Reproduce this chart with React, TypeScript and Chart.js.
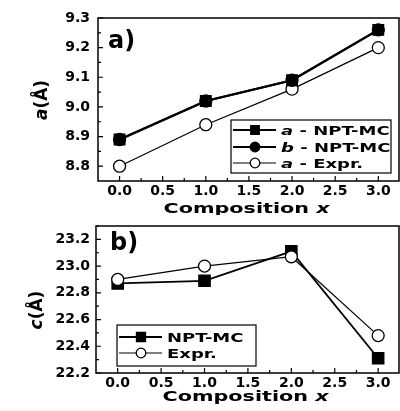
import React, { useEffect, useRef } from 'react';
import { Chart, registerables } from 'chart.js';

Chart.register(...registerables);

// ---------- data ----------
const compositions = [0, 1, 2, 3];
const aLatticeNptMc = [8.89, 9.02, 9.09, 9.26];
const bLatticeNptMc = [8.89, 9.02, 9.09, 9.26];
const aLatticeExpr = [8.8, 8.94, 9.06, 9.2];
const cLatticeNptMc = [22.87, 22.89, 23.11, 22.31];
const cLatticeExpr = [22.9, 23.0, 23.07, 22.48];

const xTickValues = [0, 0.5, 1, 1.5, 2, 2.5, 3];
const xMinorValues = [0.25, 0.75, 1.25, 1.75, 2.25, 2.75, 3.25];
const aTickValues = [8.8, 8.9, 9.0, 9.1, 9.2, 9.3];
const aMinorValues = [8.85, 8.95, 9.05, 9.15, 9.25];
const cTickValues = [22.2, 22.4, 22.6, 22.8, 23.0, 23.2];
const cMinorValues = [22.3, 22.5, 22.7, 22.9, 23.1, 23.3];

const FONT = '"DejaVu Sans", "Liberation Sans", Arial, sans-serif';

type Part = { text: string; italic?: boolean };
type Series = {
  label: Part[];
  values: number[];
  pointStyle: 'rect' | 'circle';
  filled: boolean;
  lineWidth: number;
  radius: number;
  order: number;
};

type Panel = {
  height: number;
  padTop: number;
  yAxisWidth: number;
  xAxisHeight: number;
  xMin: number;
  xMax: number;
  yMin: number;
  yMax: number;
  yTicks: number[];
  yMinor: number[];
  yDecimals: number;
  yTickPadding: number;
  series: Series[];
  yTitle: Part[];
  yTitlePos: [number, number];
  xTitleBaseline: number;
  panelLabel: string;
  panelLabelPos: [number, number];
  legendBox: [number, number, number, number];
  legendRows: number[];
};

function drawParts(
  ctx: CanvasRenderingContext2D,
  parts: Part[],
  x: number,
  y: number,
  size: number,
  sx: number,
  align: 'left' | 'center'
) {
  ctx.save();
  const fonts = parts.map((p) => `${p.italic ? 'italic ' : ''}bold ${size}px ${FONT}`);
  let total = 0;
  parts.forEach((p, i) => {
    ctx.font = fonts[i];
    total += ctx.measureText(p.text).width;
  });
  ctx.translate(x, y);
  ctx.scale(sx, 1);
  ctx.fillStyle = '#000';
  ctx.textAlign = 'left';
  ctx.textBaseline = 'alphabetic';
  let cx = align === 'center' ? -total / 2 : 0;
  parts.forEach((p, i) => {
    ctx.font = fonts[i];
    ctx.fillText(p.text, cx, 0);
    cx += ctx.measureText(p.text).width;
  });
  ctx.restore();
}

function drawMarker(ctx: CanvasRenderingContext2D, s: Series, x: number, y: number, r: number) {
  ctx.save();
  ctx.fillStyle = s.filled ? '#000' : '#fff';
  ctx.strokeStyle = '#000';
  ctx.lineWidth = 1.3;
  ctx.beginPath();
  if (s.pointStyle === 'rect') {
    const h = r * Math.SQRT1_2;
    ctx.rect(x - h, y - h, 2 * h, 2 * h);
  } else {
    ctx.arc(x, y, r, 0, Math.PI * 2);
  }
  ctx.fill();
  ctx.stroke();
  ctx.restore();
}

function makePlugin(p: Panel) {
  return {
    id: 'decor',
    beforeDatasetsDraw(chart: any) {
      const ctx: CanvasRenderingContext2D = chart.ctx;
      const a = chart.chartArea;
      const xs = chart.scales.x;
      const ys = chart.scales.y;
      ctx.save();
      ctx.strokeStyle = '#000';
      ctx.lineWidth = 1.5;
      ctx.strokeRect(a.left, a.top, a.right - a.left, a.bottom - a.top);
      ctx.lineWidth = 1.2;
      ctx.beginPath();
      const tickX = (vals: number[], len: number) =>
        vals.forEach((v) => {
          const px = xs.getPixelForValue(v);
          if (px < a.left || px > a.right) return;
          ctx.moveTo(px, a.bottom);
          ctx.lineTo(px, a.bottom - len);
        });
      const tickY = (vals: number[], len: number) =>
        vals.forEach((v) => {
          const py = ys.getPixelForValue(v);
          if (py < a.top - 0.5 || py > a.bottom) return;
          ctx.moveTo(a.left, py);
          ctx.lineTo(a.left + len, py);
        });
      tickX(xTickValues, 5);
      tickX(xMinorValues, 3);
      tickY(p.yTicks, 5);
      tickY(p.yMinor, 3);
      ctx.stroke();
      ctx.restore();
    },
    afterDraw(chart: any) {
      const ctx: CanvasRenderingContext2D = chart.ctx;
      const a = chart.chartArea;
      // x title
      drawParts(
        ctx,
        [{ text: 'Composition ' }, { text: 'x', italic: true }],
        (a.left + a.right) / 2 - 2,
        p.xTitleBaseline,
        14,
        1.48,
        'center'
      );
      // y title
      ctx.save();
      ctx.translate(p.yTitlePos[0], p.yTitlePos[1]);
      ctx.rotate(-Math.PI / 2);
      drawParts(ctx, p.yTitle, 0, 0, 17, 1, 'center');
      ctx.restore();
      // panel label
      drawParts(ctx, [{ text: p.panelLabel }], p.panelLabelPos[0], p.panelLabelPos[1], 24, 1, 'left');
      // legend
      const [bl, bt, br, bb] = p.legendBox;
      ctx.save();
      ctx.fillStyle = '#fff';
      ctx.fillRect(bl, bt, br - bl, bb - bt);
      ctx.strokeStyle = '#000';
      ctx.lineWidth = 1.2;
      ctx.strokeRect(bl, bt, br - bl, bb - bt);
      p.series.forEach((s, i) => {
        const y = p.legendRows[i];
        ctx.beginPath();
        ctx.lineWidth = s.lineWidth;
        ctx.moveTo(bl + 2, y);
        ctx.lineTo(bl + 45, y);
        ctx.stroke();
        drawMarker(ctx, s, bl + 24, y, s.radius * 0.8);
        drawParts(ctx, s.label, bl + 50, y + 4.5, 12, 1.5, 'left');
      });
      ctx.restore();
    },
  };
}

function zeroPad(s: any) {
  s.paddingLeft = 0;
  s.paddingRight = 0;
  s.paddingTop = 0;
  s.paddingBottom = 0;
}

function makeConfig(p: Panel): any {
  const tickFont = { family: FONT, size: 14, weight: 'bold' as const };
  return {
    type: 'line',
    data: {
      datasets: p.series.map((s) => ({
        label: s.label.map((q) => q.text).join(''),
        data: compositions.map((x, i) => ({ x, y: s.values[i] })),
        borderColor: '#000',
        borderWidth: s.lineWidth,
        backgroundColor: s.filled ? '#000' : '#fff',
        pointBackgroundColor: s.filled ? '#000' : '#fff',
        pointBorderColor: '#000',
        pointBorderWidth: 1.3,
        pointStyle: s.pointStyle,
        pointRadius: s.radius,
        tension: 0,
        fill: false,
        order: s.order,
        clip: false,
      })),
    },
    options: {
      animation: false,
      responsive: false,
      events: [],
      layout: { autoPadding: false, padding: { top: p.padTop, right: 1, left: 0, bottom: 0 } },
      plugins: { legend: { display: false }, tooltip: { enabled: false } },
      scales: {
        x: {
          type: 'linear',
          min: p.xMin,
          max: p.xMax,
          grid: { display: false, drawTicks: false },
          border: { display: false },
          ticks: {
            font: tickFont,
            color: '#000',
            padding: 2,
            maxRotation: 0,
            callback: (v: number) => Number(v).toFixed(1),
          },
          afterBuildTicks: (s: any) => {
            s.ticks = xTickValues.map((v) => ({ value: v }));
          },
          afterFit: (s: any) => {
            s.height = p.xAxisHeight;
            zeroPad(s);
          },
        },
        y: {
          type: 'linear',
          min: p.yMin,
          max: p.yMax,
          grid: { display: false, drawTicks: false },
          border: { display: false },
          ticks: {
            font: tickFont,
            color: '#000',
            padding: p.yTickPadding,
            callback: (v: number) => Number(v).toFixed(p.yDecimals),
          },
          afterBuildTicks: (s: any) => {
            s.ticks = p.yTicks.map((v) => ({ value: v }));
          },
          afterFit: (s: any) => {
            s.width = p.yAxisWidth;
            zeroPad(s);
          },
        },
      },
    },
    plugins: [makePlugin(p)],
  };
}

const topPanel: Panel = {
  height: 215,
  padTop: 18,
  yAxisWidth: 98,
  xAxisHeight: 34,
  xMin: -0.25,
  xMax: 3.24,
  yMin: 8.75,
  yMax: 9.3,
  yTicks: aTickValues,
  yMinor: aMinorValues,
  yDecimals: 1,
  yTickPadding: 8,
  series: [
    { label: [{ text: 'a', italic: true }, { text: ' - NPT-MC' }], values: aLatticeNptMc, pointStyle: 'rect', filled: true, lineWidth: 2.2, radius: 7.5, order: 1 },
    { label: [{ text: 'b', italic: true }, { text: ' - NPT-MC' }], values: bLatticeNptMc, pointStyle: 'circle', filled: true, lineWidth: 2.2, radius: 6, order: 0 },
    { label: [{ text: 'a', italic: true }, { text: ' - Expr.' }], values: aLatticeExpr, pointStyle: 'circle', filled: false, lineWidth: 1.2, radius: 6, order: 2 },
  ],
  yTitle: [{ text: 'a', italic: true }, { text: '(Å)' }],
  yTitlePos: [47, 100],
  xTitleBaseline: 213,
  panelLabel: 'a)',
  panelLabelPos: [108, 48],
  legendBox: [231, 120, 391, 173],
  legendRows: [130, 147, 163],
};

const bottomPanel: Panel = {
  height: 196,
  padTop: 11,
  yAxisWidth: 96,
  xAxisHeight: 38,
  xMin: -0.25,
  xMax: 3.24,
  yMin: 22.2,
  yMax: 23.3,
  yTicks: cTickValues,
  yMinor: cMinorValues,
  yDecimals: 1,
  yTickPadding: 6,
  series: [
    { label: [{ text: 'NPT-MC' }], values: cLatticeNptMc, pointStyle: 'rect', filled: true, lineWidth: 1.8, radius: 8, order: 1 },
    { label: [{ text: 'Expr.' }], values: cLatticeExpr, pointStyle: 'circle', filled: false, lineWidth: 1.2, radius: 6, order: 0 },
  ],
  yTitle: [{ text: 'c', italic: true }, { text: '(Å)' }],
  yTitlePos: [42, 95],
  xTitleBaseline: 186,
  panelLabel: 'b)',
  panelLabelPos: [110, 35],
  legendBox: [117, 110, 256, 151],
  legendRows: [122, 138],
};

function PanelChart({ panel, top }: { panel: Panel; top: number }) {
  const ref = useRef<HTMLCanvasElement | null>(null);
  useEffect(() => {
    if (!ref.current) return;
    const chart = new Chart(ref.current, makeConfig(panel));
    return () => chart.destroy();
  }, [panel]);
  return (
    <div style={{ position: 'absolute', left: 0, top, width: 400, height: panel.height }}>
      <canvas ref={ref} width={400} height={panel.height} style={{ display: 'block', width: 400, height: panel.height }} />
    </div>
  );
}

export default function App() {
  return (
    <div style={{ position: 'absolute', left: 0, top: 0, width: 400, height: 411, background: '#fff' }}>
      <PanelChart panel={topPanel} top={0} />
      <PanelChart panel={bottomPanel} top={215} />
    </div>
  );
}
